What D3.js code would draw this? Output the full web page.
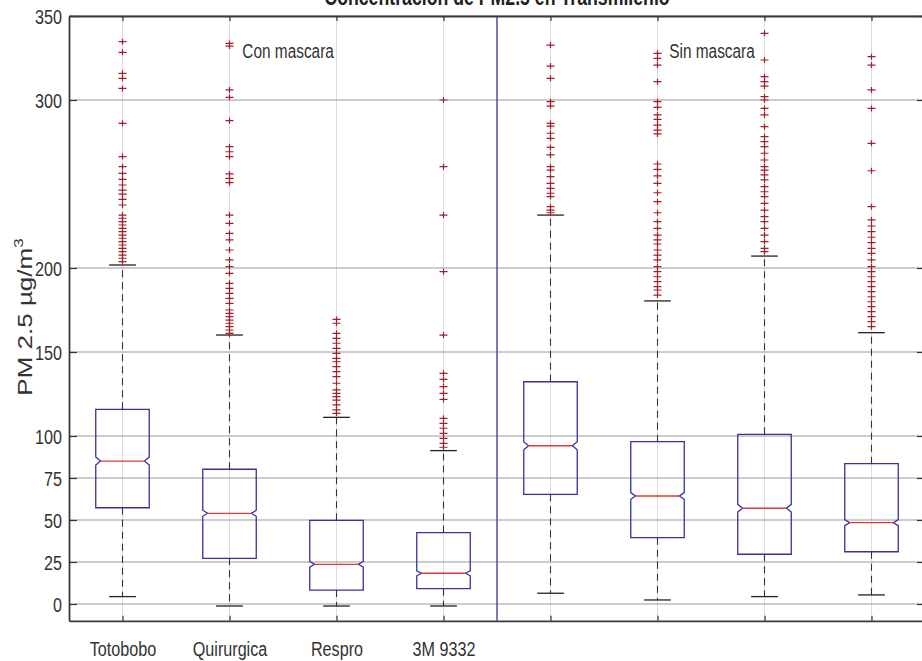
<!DOCTYPE html>
<html>
<head>
<meta charset="utf-8">
<script src="https://cdn.jsdelivr.net/npm/d3@7"></script>
<style>
  html, body { margin: 0; padding: 0; background: #fff; }
  svg { display: block; font-family: Arial, "Liberation Sans", sans-serif; }
</style>
</head>
<body>
<svg id="chart" width="922" height="661"></svg>
<script>
// PM2.5 concentration per mask type (with / without mask), notched boxplot
const tickLabels = ["Totobobo", "Quirurgica", "Respro", "3M 9332", "", "", "", ""];
const positions = [1, 2, 3, 4, 5, 6, 7, 8];
const q1 = [57.3, 27.2, 8.3, 9.1, 65.3, 39.5, 29.6, 31.1];
const medians = [85.1, 54.0, 23.6, 18.3, 94.2, 64.3, 57.0, 48.4];
const q3 = [115.9, 80.2, 49.8, 42.5, 132.3, 96.6, 101.0, 83.5];
const whiskerLow = [4.4, -1.2, -1.2, -1.2, 6.4, 2.4, 4.4, 5.4];
const whiskerHigh = [201.8, 160.1, 111.1, 91.3, 231.5, 180.4, 207.1, 161.5];
const notchHalf = [2.4, 1.8, 1.7, 1.5, 2.4, 2.0, 2.3, 1.8];
const outliers = [
  [334.7, 328.4, 315.9, 312.9, 306.9, 286.1, 266.3, 260.3, 256.3, 252.8, 249.4, 246.4, 244.0, 240.9, 237.5,
   231.5, 229.6, 227.6, 225.6, 223.6, 221.6, 219.6, 217.7, 215.7, 213.7, 211.7, 209.7, 207.7, 205.8, 203.8],
  [333.7, 332.1, 306.0, 301.6, 287.7, 272.2, 269.2, 266.3, 256.0, 253.4, 250.8, 231.5, 226.6, 220.6, 216.7,
   210.7, 204.8, 200.8, 196.8, 190.9, 187.9, 184.9, 181.9, 179.0, 175.0, 173.0, 171.0, 169.0, 167.1, 165.1, 163.1, 161.1],
  [169.4, 167.1, 161.1, 158.1, 155.2, 152.2, 149.2, 146.2, 144.2, 141.3, 138.3, 135.3, 131.4, 127.4, 125.4,
   123.4, 121.4, 118.5, 115.5, 113.5],
  [300.0, 260.3, 231.5, 197.8, 160.1, 137.3, 133.7, 129.4, 125.4, 121.8, 110.5, 107.5, 104.6, 101.6, 98.6, 95.6, 93.3],
  [332.7, 320.2, 312.9, 299.0, 296.4, 286.1, 284.5, 280.2, 277.2, 271.8, 267.3, 260.3, 258.3, 254.4, 250.4,
   247.4, 244.5, 242.5, 236.5, 234.5, 232.9],
  [327.8, 324.8, 320.8, 310.9, 299.0, 295.6, 291.1, 288.5, 285.1, 282.1, 279.8, 261.9, 258.7, 254.8, 250.4,
   244.8, 239.5, 232.9, 227.6, 223.6, 219.6, 216.7, 214.3, 210.7, 207.7, 204.8, 200.8, 197.8, 194.8, 191.9,
   188.9, 186.9, 183.9],
  [339.7, 323.8, 313.9, 310.9, 308.3, 302.0, 300.0, 295.0, 291.1, 284.1, 278.2, 275.2, 272.2, 268.3, 264.3,
   260.3, 258.3, 255.4, 252.4, 248.4, 245.4, 242.5, 238.5, 234.5, 230.6, 227.6, 223.6, 219.6, 215.7, 211.7, 209.7],
  [325.8, 320.8, 306.0, 295.0, 274.2, 257.9, 236.5, 228.6, 225.0, 221.6, 218.3, 215.1, 211.7, 208.7, 204.8,
   200.8, 197.8, 194.8, 191.9, 188.9, 185.9, 182.9, 179.9, 177.0, 174.0, 171.0, 168.1, 165.1]
];
const yTicks = [0, 25, 50, 75, 100, 150, 200, 300, 350];
const title = "Concentración de PM2.5 en Transmilenio";
const groupNotes = [{ text: "Con mascara", x: 2.12, y: 325 }, { text: "Sin mascara", x: 6.11, y: 325 }];
const separatorAt = 4.5;

// layout
const svg = d3.select("#chart");
const plotL = 69, plotR = 925, plotT = 16, plotB = 620.8;
const squeeze = 0.77;          // condensed text
const boxW = 0.5, capW = 0.25, notchInset = 0.045;

const x = d3.scaleLinear().domain([0.5, 8.5]).range([plotL, plotR]);
const y = d3.scaleLinear().domain([-10, 350]).range([plotB, plotT]);

const plot = svg.append("g");

// grid
plot.selectAll("line.vgrid").data(positions).join("line")
  .attr("x1", d => x(d)).attr("x2", d => x(d)).attr("y1", plotT).attr("y2", plotB)
  .attr("stroke", "#dcdcdc").attr("stroke-width", 1);
plot.selectAll("line.hgrid").data(yTicks).join("line")
  .attr("x1", plotL).attr("x2", plotR).attr("y1", d => y(d)).attr("y2", d => y(d))
  .attr("stroke", "#9a9a9a").attr("stroke-width", 1);

// separator between groups
plot.append("line")
  .attr("x1", x(separatorAt)).attr("x2", x(separatorAt)).attr("y1", plotT).attr("y2", plotB)
  .attr("stroke", "#5a5aa6").attr("stroke-width", 1.6);

// boxes
const boxes = plot.selectAll("g.box").data(positions.map((p, i) => ({
  p, q1: q1[i], med: medians[i], q3: q3[i], lo: whiskerLow[i], hi: whiskerHigh[i],
  nh: notchHalf[i], out: outliers[i]
}))).join("g").attr("class", "box");

// whiskers (dashed)
boxes.append("line")
  .attr("x1", d => x(d.p)).attr("x2", d => x(d.p))
  .attr("y1", d => y(d.q3)).attr("y2", d => y(d.hi))
  .attr("stroke", "#333").attr("stroke-width", 1.1).attr("stroke-dasharray", "7,5");
boxes.append("line")
  .attr("x1", d => x(d.p)).attr("x2", d => x(d.p))
  .attr("y1", d => y(d.q1)).attr("y2", d => y(d.lo))
  .attr("stroke", "#333").attr("stroke-width", 1.1).attr("stroke-dasharray", "7,5");
// whisker caps
["hi", "lo"].forEach(k => {
  boxes.append("line")
    .attr("x1", d => x(d.p - capW / 2)).attr("x2", d => x(d.p + capW / 2))
    .attr("y1", d => y(d[k])).attr("y2", d => y(d[k]))
    .attr("stroke", "#222").attr("stroke-width", 1.3);
});

// notched box outline
boxes.append("path")
  .attr("d", d => {
    const l = x(d.p - boxW / 2), r = x(d.p + boxW / 2);
    const li = x(d.p - boxW / 2 + notchInset), ri = x(d.p + boxW / 2 - notchInset);
    const pts = [
      [l, y(d.q1)], [l, y(d.med - d.nh)], [li, y(d.med)], [l, y(d.med + d.nh)], [l, y(d.q3)],
      [r, y(d.q3)], [r, y(d.med + d.nh)], [ri, y(d.med)], [r, y(d.med - d.nh)], [r, y(d.q1)]
    ];
    return d3.line()(pts) + "Z";
  })
  .attr("fill", "none").attr("stroke", "#34349f").attr("stroke-width", 1.3);

// median
boxes.append("line")
  .attr("x1", d => x(d.p - boxW / 2 + notchInset)).attr("x2", d => x(d.p + boxW / 2 - notchInset))
  .attr("y1", d => y(d.med)).attr("y2", d => y(d.med))
  .attr("stroke", "#e23a34").attr("stroke-width", 1.3);

// outliers as "+"
boxes.each(function (d) {
  const g = d3.select(this);
  const cx = x(d.p);
  g.selectAll("path.out").data(d.out).join("path")
    .attr("d", v => `M${cx - 4},${y(v)}H${cx + 4}M${cx},${y(v) - 3}V${y(v) + 3}`)
    .attr("stroke", "#a41e2a").attr("stroke-width", 1.2).attr("fill", "none");
});

// axes
const axL = svg.append("g").attr("transform", `translate(${plotL},0)`)
  .call(d3.axisLeft(y).tickValues(yTicks).tickSizeInner(-8).tickSizeOuter(0).tickPadding(7));
const axR = svg.append("g").attr("transform", `translate(${plotR},0)`)
  .call(d3.axisRight(y).tickValues(yTicks).tickSizeInner(-8).tickSizeOuter(0).tickFormat(""));
const axB = svg.append("g").attr("transform", `translate(0,${plotB})`)
  .call(d3.axisBottom(x).tickValues(positions).tickSizeInner(-5).tickSizeOuter(0)
    .tickFormat(d => tickLabels[d - 1]));
const axT = svg.append("g").attr("transform", `translate(0,${plotT})`)
  .call(d3.axisTop(x).tickValues(positions).tickSizeInner(-5).tickSizeOuter(0).tickFormat(""));

[axL, axR, axB, axT].forEach(a => {
  a.select(".domain").attr("stroke", "#3a3a3a").attr("stroke-width", 1.8);
  a.selectAll(".tick line").attr("stroke", "#333").attr("stroke-width", 1.2);
});
axL.selectAll(".tick text")
  .attr("x", 0).attr("dy", null).attr("dominant-baseline", "central")
  .attr("transform", `translate(-7,0) scale(${squeeze},1)`)
  .attr("font-size", 21).attr("fill", "#333").attr("font-family", "Arial, 'Liberation Sans', sans-serif");
axB.selectAll(".tick text")
  .attr("y", 0).attr("dy", null)
  .attr("transform", `translate(0,35.5) scale(${squeeze},1)`)
  .attr("font-size", 21).attr("fill", "#333").attr("font-family", "Arial, 'Liberation Sans', sans-serif");

// title
svg.append("text")
  .attr("transform", `translate(${(plotL + plotR) / 2},5) scale(${squeeze},1)`)
  .attr("text-anchor", "middle").attr("font-weight", "bold").attr("font-size", 23).attr("fill", "#222")
  .text(title);

// group notes
groupNotes.forEach(n => {
  svg.append("text")
    .attr("transform", `translate(${x(n.x)},${y(n.y)}) scale(${squeeze},1)`)
    .attr("font-size", 20).attr("fill", "#333").text(n.text);
});

// y label
const yl = svg.append("text")
  .attr("transform", `translate(32,317) scale(0.78,1) rotate(-90)`)
  .attr("text-anchor", "middle").attr("font-size", 26).attr("fill", "#333");
yl.append("tspan").text("PM 2.5 µg/m");
yl.append("tspan").attr("font-size", 17).attr("dy", -11).text("3");
</script>
</body>
</html>
